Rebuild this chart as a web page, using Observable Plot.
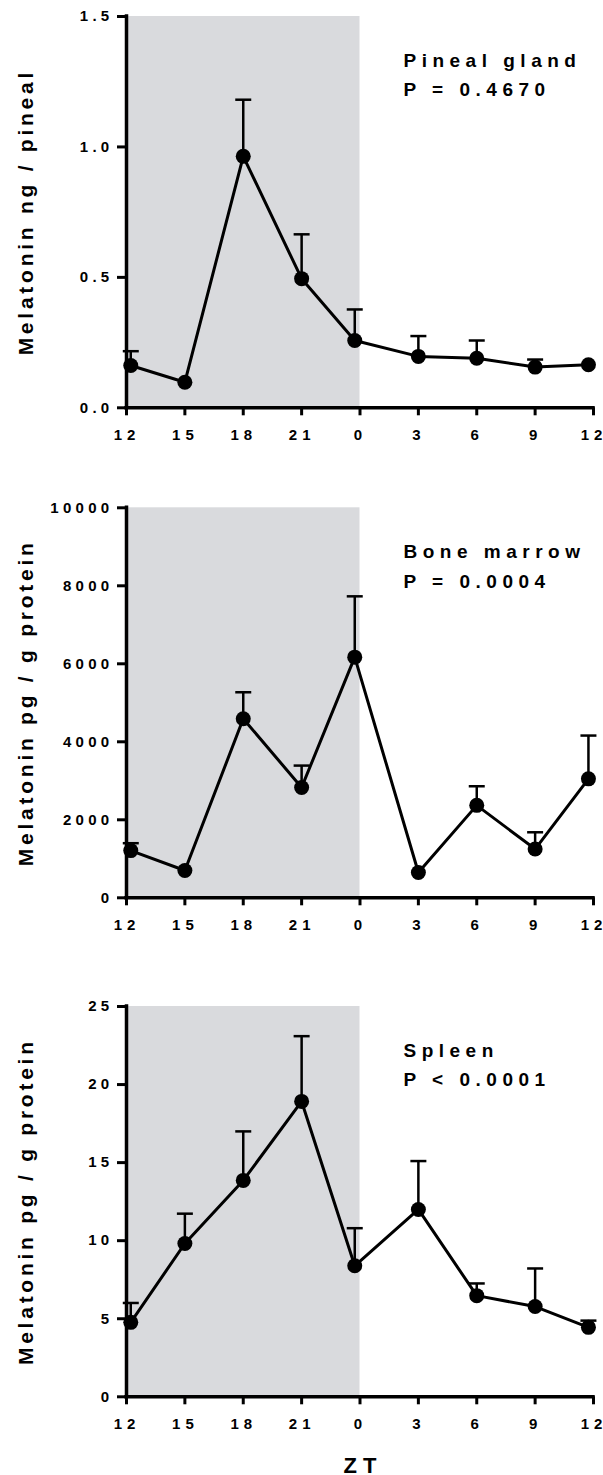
<!DOCTYPE html>
<html>
<head>
<meta charset="utf-8">
<script src="https://cdn.jsdelivr.net/npm/d3@7"></script>
<script src="https://cdn.jsdelivr.net/npm/@observablehq/plot@0.6"></script>
<style>
  html, body { margin: 0; padding: 0; background: #fff; }
  #chart svg { display: block; }
</style>
</head>
<body>
<div id="chart"></div>
<script>
// Sampling times, hours after lights-off (ZT12)
const sampleHours = [0.22, 3, 6, 9, 11.73, 15, 18, 21, 23.74];
const xTicks = [0, 3, 6, 9, 12, 15, 18, 21, 24];
const xTickLabels = ["12", "15", "18", "21", "0", "3", "6", "9", "12"];
const nightSpan = [0, 12];

// Pineal gland (ng / pineal)
const pinealMean = [0.162, 0.098, 0.964, 0.495, 0.258, 0.197, 0.190, 0.156, 0.165];
const pinealSem  = [0.055, null, 0.217, 0.170, 0.119, 0.078, 0.068, 0.029, null];
const pinealTicks = [0, 0.5, 1.0, 1.5];

// Bone marrow (pg / g protein)
const boneMean = [1210, 700, 4590, 2830, 6170, 650, 2370, 1250, 3050];
const boneSem  = [190, null, 680, 560, 1560, null, 490, 430, 1110];
const boneTicks = [0, 2000, 4000, 6000, 8000, 10000];

// Spleen (pg / g protein)
const spleenMean = [4.77, 9.82, 13.86, 18.92, 8.39, 12.0, 6.48, 5.78, 4.45];
const spleenSem  = [1.24, 1.91, 3.14, 4.18, 2.41, 3.1, 0.78, 2.44, 0.43];
const spleenTicks = [0, 5, 10, 15, 20, 25];

const FONT = "'Liberation Sans', Arial, Helvetica, sans-serif";
const SHADE = "#d9dadd";

// horizontal cap symbol for error bars
const capSymbol = {
  draw(context, size) {
    const w = Math.sqrt(size / Math.PI);
    context.moveTo(-w, 0);
    context.lineTo(w, 0);
  }
};

// spread characters of single-line texts without trailing space
function spaceOut(group, ls) {
  if (!group) return;
  group.querySelectorAll("text").forEach(t => {
    const n = t.textContent.length;
    if (n > 1) t.setAttribute("dx", [0, ...Array(n - 1).fill(ls)].join(" "));
  });
}

function panel({mean, sem, yTicks, yFormat, yLabel, note, height, marginTop, marginBottom, zt}) {
  const rows = sampleHours.map((x, i) => ({x, y: mean[i], hi: sem[i] == null ? null : mean[i] + sem[i]}));
  const errRows = rows.filter(d => d.hi != null);
  const yDomain = [yTicks[0], yTicks[yTicks.length - 1]];
  const marks = [
    Plot.rect([{x1: nightSpan[0], x2: nightSpan[1], y1: yDomain[0], y2: yDomain[1]}],
      {x1: "x1", x2: "x2", y1: "y1", y2: "y2", fill: SHADE}),
    Plot.ruleX(errRows, {x: "x", y1: "y", y2: "hi", stroke: "black", strokeWidth: 2.5}),
    Plot.dot(errRows, {x: "x", y: "hi", symbol: capSymbol, r: 8, stroke: "black", strokeWidth: 2.5, fill: "none"}),
    Plot.line(rows, {x: "x", y: "y", stroke: "black", strokeWidth: 3}),
    Plot.dot(rows, {x: "x", y: "y", r: 7.5, fill: "black", stroke: "none"}),
    Plot.ruleX([xTicks[0]], {stroke: "black", strokeWidth: 3.5, strokeLinecap: "square"}),
    Plot.ruleY([yDomain[0]], {stroke: "black", strokeWidth: 3.5, strokeLinecap: "square"}),
    Plot.axisY({ticks: yTicks, tickSize: 9, strokeWidth: 3, fill: "none", label: null}),
    Plot.axisY({ticks: yTicks, tickSize: 0, tickPadding: 17.3, tickFormat: yFormat, fontSize: 15, label: null}),
    Plot.axisX({ticks: xTicks, tickSize: 8, strokeWidth: 3, fill: "none", label: null}),
    Plot.axisX({ticks: xTicks, tickSize: 0, tickPadding: 22, dx: -2,
      tickFormat: d => xTickLabels[xTicks.indexOf(d)], fontSize: 15, label: null}),
    Plot.text([yLabel], {text: d => d, frameAnchor: "left", rotate: -90, dx: -100.7,
      lineAnchor: "middle", textAnchor: "middle", fontSize: 21}),
    Plot.text([note], {text: d => d, frameAnchor: "top-left", dx: 277, dy: 30,
      lineAnchor: "top", textAnchor: "start", fontSize: 19, lineHeight: 1.53})
  ];
  if (zt) marks.push(Plot.text([zt], {text: d => d, frameAnchor: "bottom", dy: 60.4, dx: 3,
      lineAnchor: "top", textAnchor: "middle", fontSize: 22}));
  const svg = Plot.plot({
    width: 603, height, marginLeft: 126, marginRight: 10, marginTop, marginBottom,
    x: {domain: [xTicks[0], xTicks[xTicks.length - 1]]},
    y: {domain: yDomain},
    style: {fontFamily: FONT, fontWeight: "bold", color: "black", background: "white", overflow: "visible"},
    marks
  });
  spaceOut(svg.querySelector('g[aria-label="y-axis tick label"]'), 4.3);
  spaceOut(svg.querySelector('g[aria-label="x-axis tick label"]'), 5);
  const texts = svg.querySelectorAll('g[aria-label="text"]');
  const spacings = [3.75, 5.5, 6];
  texts.forEach((g, i) => g.style.letterSpacing = spacings[i] + "px");
  return svg;
}

const root = document.getElementById("chart");
root.appendChild(panel({mean: pinealMean, sem: pinealSem, yTicks: pinealTicks, yFormat: d3.format(".1f"),
  yLabel: "Melatonin ng / pineal", note: "Pineal gland\nP = 0.4670", height: 460, marginTop: 16, marginBottom: 52.7}));
root.appendChild(panel({mean: boneMean, sem: boneSem, yTicks: boneTicks, yFormat: d3.format("d"),
  yLabel: "Melatonin pg / g protein", note: "Bone marrow\nP = 0.0004", height: 500, marginTop: 47.3, marginBottom: 62.7}));
root.appendChild(panel({mean: spleenMean, sem: spleenSem, yTicks: spleenTicks, yFormat: d3.format("d"),
  yLabel: "Melatonin pg / g protein", note: "Spleen\nP < 0.0001", height: 515, marginTop: 46, marginBottom: 78.7, zt: "ZT"}));
</script>
</body>
</html>
